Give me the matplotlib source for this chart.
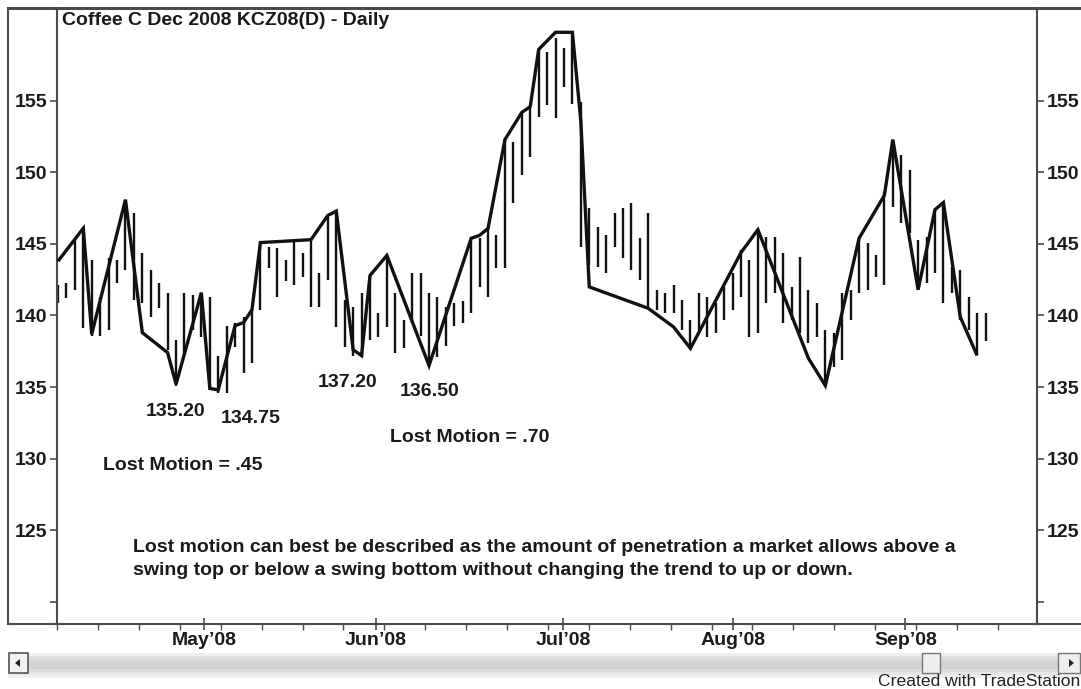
import numpy as np
import matplotlib
matplotlib.use("Agg")
import matplotlib.pyplot as plt
from matplotlib.lines import Line2D
from matplotlib.patches import Rectangle, Polygon

# ---------------- data ----------------
high = [142.1, 142.3, 145.3, 146.1, 143.9, 141.3, 144.0, 143.9, 148.1, 147.2,
        144.4, 143.2, 142.3, 141.6, 138.3, 141.6, 141.4, 141.6, 141.3, 137.2,
        139.3, 139.5, 139.9, 140.4, 145.1, 144.8, 144.7, 143.9, 145.3, 144.4,
        145.3, 143.0, 146.9, 147.4, 141.1, 140.6, 141.6, 142.8, 140.2, 144.2,
        141.6, 139.7, 143.0, 143.0, 141.6, 141.3, 140.6, 140.9, 141.0, 145.5,
        145.4, 146.1, 145.6, 152.3, 152.1, 154.2, 154.5, 158.7, 158.4, 159.4,
        158.7, 159.7, 154.9, 147.5, 146.2, 145.6, 147.2, 147.5, 147.9, 145.4,
        147.2, 141.8, 141.6, 142.1, 141.1, 139.7, 141.6, 141.3, 140.9, 142.0,
        143.0, 144.6, 143.9, 146.0, 145.5, 145.5, 144.4, 142.0, 144.1, 141.8,
        140.9, 139.0, 138.8, 141.6, 141.8, 145.4, 145.1, 144.2, 148.6, 152.3,
        151.2, 150.2, 145.3, 145.5, 147.4, 147.9, 143.4, 143.2, 141.3, 140.2,
        140.2]
low = [140.9, 141.2, 141.8, 139.1, 138.6, 138.6, 139.0, 142.3, 143.2, 141.1,
       140.9, 139.9, 140.5, 137.6, 135.1, 137.2, 139.0, 138.5, 134.9, 134.6,
       134.6, 137.8, 136.0, 136.7, 140.4, 143.3, 141.3, 142.4, 142.1, 142.7,
       140.6, 140.6, 142.5, 139.2, 137.8, 137.2, 137.1, 138.3, 138.5, 139.2,
       137.4, 137.7, 139.5, 138.6, 136.5, 137.1, 137.9, 139.3, 139.5, 140.2,
       142.0, 141.3, 143.3, 143.3, 147.9, 149.8, 151.1, 153.9, 154.7, 153.8,
       156.0, 154.8, 144.8, 143.5, 143.4, 143.0, 144.8, 144.0, 143.2, 142.5,
       140.6, 140.4, 140.2, 140.2, 139.0, 137.7, 139.0, 138.5, 138.8, 139.7,
       140.4, 141.3, 138.5, 138.8, 140.9, 141.6, 139.5, 139.7, 138.8, 138.1,
       138.5, 135.2, 136.4, 136.9, 139.7, 141.6, 141.8, 142.7, 142.1, 147.6,
       146.5, 145.8, 141.8, 142.3, 143.0, 140.9, 141.6, 139.7, 139.0, 137.3,
       138.2]

swing_idx = [0, 3, 4, 8, 10, 13, 14, 17, 18, 19, 21, 22, 23, 24, 30, 32, 33,
             35, 36, 37, 39, 44, 49, 50, 51, 53, 55, 56, 57, 59, 61, 62, 63,
             70, 73, 75, 81, 83, 89, 91, 95, 98, 99, 102, 104, 105, 107, 109]
swing_price = [143.8, 146.1, 138.7, 148.1, 138.8, 137.4, 135.2, 141.6, 134.9,
               134.8, 139.3, 139.5, 140.4, 145.1, 145.3, 147.0, 147.3, 137.6,
               137.2, 142.8, 144.2, 136.5, 145.4, 145.6, 146.1, 152.3, 154.2,
               154.6, 158.6, 159.8, 159.8, 153.6, 142.0, 140.5, 139.2, 137.7,
               144.4, 146.0, 137.0, 135.1, 145.4, 148.4, 152.3, 141.8, 147.4,
               147.9, 139.9, 137.2]

month_labels = ["May\u201908", "Jun\u201908", "Jul\u201908", "Aug\u201908", "Sep\u201908"]
month_pos = [17.3, 37.7, 59.9, 80.1, 100.5]
y_ticks = [120, 125, 130, 135, 140, 145, 150, 155]
y_ticklabels = ["", "125", "130", "135", "140", "145", "150", "155"]

swing_labels = ["135.20", "134.75", "137.20", "136.50"]
title = "Coffee C Dec 2008 KCZ08(D) - Daily"
lost_labels = ["Lost Motion = .45", "Lost Motion = .70"]
note_lines = ["Lost motion can best be described as the amount of penetration a market allows above a",
              "swing top or below a swing bottom without changing the trend to up or down."]

# ---------------- figure ----------------
W, H = 1081, 689
FONT = "Liberation Sans"
TXT = "#1a1a1a"
FR = "#4a4a4a"
FS = 14
plt.rcParams["font.family"] = [FONT, "DejaVu Sans"]

fig = plt.figure(figsize=(W / 100, H / 100), dpi=100)
fig.patch.set_facecolor("white")

def fx(px):
    return px / W

def fy(py):
    return (H - py) / H

ax = fig.add_axes([fx(57), fy(624), fx(1037) - fx(57), fy(8) - fy(624)])
ax.set_facecolor("white")
ax.set_xlim(-0.12, 116.1)
ax.set_ylim(118.43, 161.5)

x = np.arange(len(high))
ax.vlines(x, low, high, color="#111111", lw=1.7, zorder=2)
ax.plot(swing_idx, swing_price, color="#111111", lw=2.4, zorder=3,
        solid_joinstyle="miter", solid_capstyle="butt")

# spines
for s in ["top", "bottom"]:
    ax.spines[s].set_visible(False)
for s in ["left", "right"]:
    ax.spines[s].set_color(FR)
    ax.spines[s].set_linewidth(1.5)

# y axis both sides
ax.set_yticks(y_ticks)
ax.set_yticklabels(y_ticklabels)
ax.tick_params(axis="y", which="major", left=True, right=True, labelleft=True,
               labelright=True, direction="out", length=5, width=1.2, color=FR,
               pad=2)
for lab in ax.get_yticklabels():
    lab.set_fontweight("bold")
    lab.set_fontsize(FS)
    lab.set_color(TXT)

# x axis
ax.set_xticks(month_pos)
ax.set_xticklabels(month_labels)
ax.set_xticks(np.arange(-0.1, 116, 4.85), minor=True)
ax.tick_params(axis="x", which="major", direction="inout", length=9, width=1.2,
               color=FR, pad=1)
ax.tick_params(axis="x", which="minor", direction="out", length=4, width=1.0,
               color=FR)
for lab in ax.get_xticklabels():
    lab.set_fontweight("bold")
    lab.set_fontsize(FS)
    lab.set_color(TXT)

# figure frame lines
fig.add_artist(Line2D([fx(8), fx(1081)], [fy(8), fy(8)], color=FR, lw=2.2))
fig.add_artist(Line2D([fx(8), fx(8)], [fy(8), fy(624)], color=FR, lw=1.5))
fig.add_artist(Line2D([fx(8), fx(1081)], [fy(624), fy(624)], color=FR, lw=1.5))

# texts
tk = dict(fontweight="bold", fontsize=FS, color=TXT)
ax.text(0.005, 0.980, title, transform=ax.transAxes, ha="left", va="center", **tk)
ax.text(13.9, 133.3, swing_labels[0], ha="center", va="center", **tk)
ax.text(22.9, 132.8, swing_labels[1], ha="center", va="center", **tk)
ax.text(34.3, 135.3, swing_labels[2], ha="center", va="center", **tk)
ax.text(44.1, 134.7, swing_labels[3], ha="center", va="center", **tk)
ax.text(5.3, 129.5, lost_labels[0], ha="left", va="center", **tk)
ax.text(39.4, 131.5, lost_labels[1], ha="left", va="center", **tk)
ax.text(8.9, 123.8, note_lines[0], ha="left", va="center", **tk)
ax.text(8.9, 122.2, note_lines[1], ha="left", va="center", **tk)

# scrollbar
sb = fig.add_axes([fx(8), fy(678), fx(1081) - fx(8), fy(653) - fy(678)])
grad = np.array([0.93, 0.88, 0.84, 0.82, 0.83, 0.86, 0.9, 0.94])[:, None]
sb.imshow(np.repeat(grad, 10, axis=1), cmap="gray", vmin=0, vmax=1,
          aspect="auto", extent=[0, 1, 0, 1])
sb.set_axis_off()
fig.add_artist(Rectangle((fx(9), fy(673)), fx(28) - fx(9), fy(653) - fy(673),
                         facecolor="#f2f2f2", edgecolor="#555555", lw=1.2))
fig.add_artist(Polygon([[fx(15), fy(663)], [fx(20), fy(659)], [fx(20), fy(667)]],
                       closed=True, facecolor="#222222", edgecolor="none"))
fig.add_artist(Rectangle((fx(922), fy(673)), fx(940) - fx(922), fy(653) - fy(673),
                         facecolor="#eeeeee", edgecolor="#777777", lw=1.0))
fig.add_artist(Rectangle((fx(1058), fy(673)), fx(1080) - fx(1058), fy(653) - fy(673),
                         facecolor="#eeeeee", edgecolor="#777777", lw=1.0))
fig.add_artist(Polygon([[fx(1074), fy(663)], [fx(1069), fy(659)], [fx(1069), fy(667)]],
                       closed=True, facecolor="#222222", edgecolor="none"))

fig.text(fx(878), fy(681), "Created with TradeStation", ha="left", va="center",
         fontsize=12.6, color="#222222")

fig.savefig("out.png", dpi=100, facecolor="white")
